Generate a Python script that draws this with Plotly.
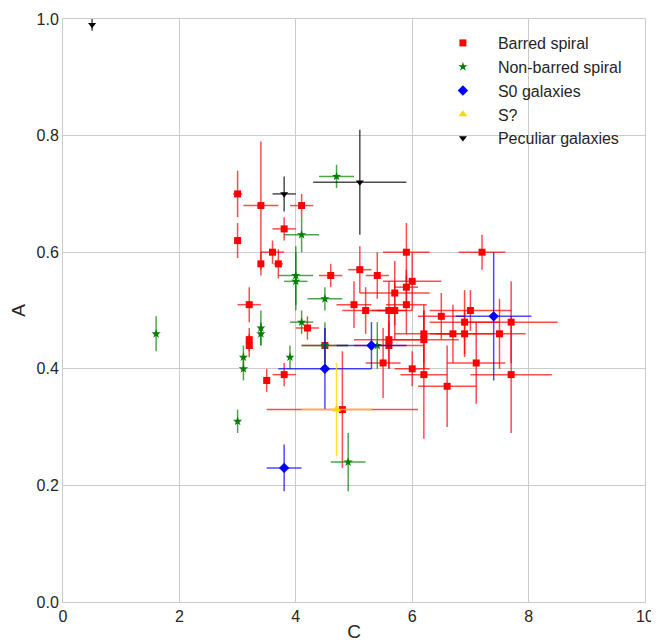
import plotly.graph_objects as go

# Barred spiral
bar_C  = [3.0, 3.4, 3.0, 4.1, 3.8, 3.6, 3.4, 3.7, 4.6, 5.1, 5.4, 3.2, 5.0, 5.2, 5.6, 5.7, 5.7, 5.9, 6.0, 5.9,
          5.9, 7.2, 6.5, 7.0, 6.9, 7.7, 6.2, 6.2, 6.7, 6.9, 7.5, 5.6, 5.6, 5.5, 6.0, 6.2, 6.6, 7.1, 7.7, 4.8,
          3.2, 3.2, 4.2, 3.5, 3.8, 4.5]
bar_A  = [0.70, 0.68, 0.62, 0.68, 0.64, 0.60, 0.58, 0.58, 0.56, 0.57, 0.56, 0.51, 0.51, 0.50, 0.50, 0.50, 0.53, 0.54, 0.55, 0.60,
          0.51, 0.60, 0.49, 0.50, 0.48, 0.48, 0.46, 0.45, 0.46, 0.46, 0.46, 0.45, 0.44, 0.41, 0.40, 0.39, 0.37, 0.41, 0.39, 0.33,
          0.45, 0.44, 0.47, 0.38, 0.39, 0.44]
bar_Ce = [0.08, 0.30, 0.05, 0.20, 0.20, 0.20, 0.05, 0.08, 0.20, 0.20, 0.20, 0.20, 0.30, 0.40, 0.30, 0.30, 0.60, 0.20, 0.50, 0.40,
          0.35, 0.40, 0.40, 0.70, 0.60, 0.80, 0.50, 0.60, 0.40, 0.50, 0.45, 0.60, 0.60, 0.30, 0.30, 0.40, 0.50, 0.50, 0.70, 1.30,
          0.05, 0.05, 0.20, 0.05, 0.20, 0.40]
bar_Ae = [0.04, 0.11, 0.03, 0.02, 0.02, 0.02, 0.02, 0.025, 0.02, 0.04, 0.04, 0.03, 0.04, 0.04, 0.05, 0.05, 0.055, 0.03, 0.05, 0.05,
          0.05, 0.03, 0.04, 0.035, 0.055, 0.07, 0.05, 0.05, 0.05, 0.04, 0.06, 0.05, 0.04, 0.06, 0.03, 0.11, 0.07, 0.07, 0.10, 0.10,
          0.02, 0.02, 0.02, 0.02, 0.02, 0.03]

# Non-barred spiral
nb_C  = [4.7, 4.1, 4.0, 4.0, 4.5, 1.6, 3.4, 3.4, 3.1, 3.1, 3.9, 4.1, 3.0, 4.5, 5.4, 4.9]
nb_A  = [0.73, 0.63, 0.56, 0.55, 0.52, 0.46, 0.47, 0.46, 0.42, 0.40, 0.42, 0.48, 0.31, 0.44, 0.44, 0.24]
nb_Ce = [0.30, 0.30, 0.30, 0.20, 0.30, 0.05, 0.05, 0.05, 0.05, 0.05, 0.05, 0.20, 0.05, 0.40, 0.05, 0.30]
nb_Ae = [0.02, 0.03, 0.05, 0.05, 0.02, 0.03, 0.03, 0.02, 0.02, 0.02, 0.02, 0.02, 0.02, 0.04, 0.04, 0.05]

# S0 galaxies
s0_C  = [7.4, 5.3, 4.5, 3.8]
s0_A  = [0.49, 0.44, 0.40, 0.23]
s0_Ce = [0.65, 0.60, 0.80, 0.30]
s0_Ae = [0.11, 0.04, 0.07, 0.04]

# S?
sq_C  = [4.7]
sq_A  = [0.33]
sq_Ce = [0.60]
sq_Ae = [0.08]

# Peculiar galaxies
pec_C  = [0.5, 3.8, 5.1]
pec_A  = [0.99, 0.70, 0.72]
pec_Ce = [0.02, 0.20, 0.80]
pec_Ae = [0.01, 0.03, 0.09]

x_ticks = [0, 2, 4, 6, 8, 10]
y_ticks = [0.0, 0.2, 0.4, 0.6, 0.8, 1.0]

series = [
    ("Barred spiral", bar_C, bar_A, bar_Ce, bar_Ae, "#ff0000", "rgba(255,0,0,0.7)", "square", 7),
    ("Non-barred spiral", nb_C, nb_A, nb_Ce, nb_Ae, "#008000", "rgba(0,128,0,0.7)", "star", 7),
    ("S0 galaxies", s0_C, s0_A, s0_Ce, s0_Ae, "#0000ff", "rgba(0,0,255,0.7)", "diamond", 8),
    ("S?", sq_C, sq_A, sq_Ce, sq_Ae, "#ffd700", "rgba(255,215,0,0.8)", "triangle-up", 8),
    ("Peculiar galaxies", pec_C, pec_A, pec_Ce, pec_Ae, "#000000", "rgba(0,0,0,0.7)", "triangle-down", 7),
]

fig = go.Figure()
for name, xs, ys, xe, ye, col, ecol, sym, sz in series:
    fig.add_trace(go.Scatter(
        x=xs, y=ys, mode="markers", name=name,
        marker=dict(symbol=sym, size=sz, color=col, line=dict(width=0)),
        error_x=dict(type="data", array=xe, visible=True, color=ecol, thickness=1.5, width=0),
        error_y=dict(type="data", array=ye, visible=True, color=ecol, thickness=1.5, width=0),
    ))

axis_common = dict(
    showgrid=True, gridcolor="#cccccc", gridwidth=1,
    showline=True, linecolor="#cccccc", linewidth=1, mirror=True,
    zeroline=False, ticks="", automargin=False,
    tickfont=dict(size=16, color="#262626"),
)

# page body has an 8px margin, so the figure is sized/offset to compensate
fig.update_layout(
    width=651, height=634,
    margin=dict(l=55, r=14, t=11, b=40),
    paper_bgcolor="white", plot_bgcolor="white",
    font=dict(family="Liberation Sans, Arial, sans-serif", color="#262626"),
    xaxis=dict(range=[0, 10], tickvals=x_ticks, ticktext=[str(v) for v in x_ticks],
               title=dict(text="C", font=dict(size=19), standoff=3), **axis_common),
    yaxis=dict(range=[0, 1], tickvals=y_ticks, ticktext=[f"{v:.1f}" for v in y_ticks],
               title=dict(text="A", font=dict(size=19), standoff=7), **axis_common),
    legend=dict(x=0.627, y=0.988, xanchor="left", yanchor="top", bgcolor="rgba(0,0,0,0)",
                font=dict(size=16, color="#262626"), borderwidth=0, itemwidth=60),
    showlegend=True,
)

fig.write_html("out.html")
